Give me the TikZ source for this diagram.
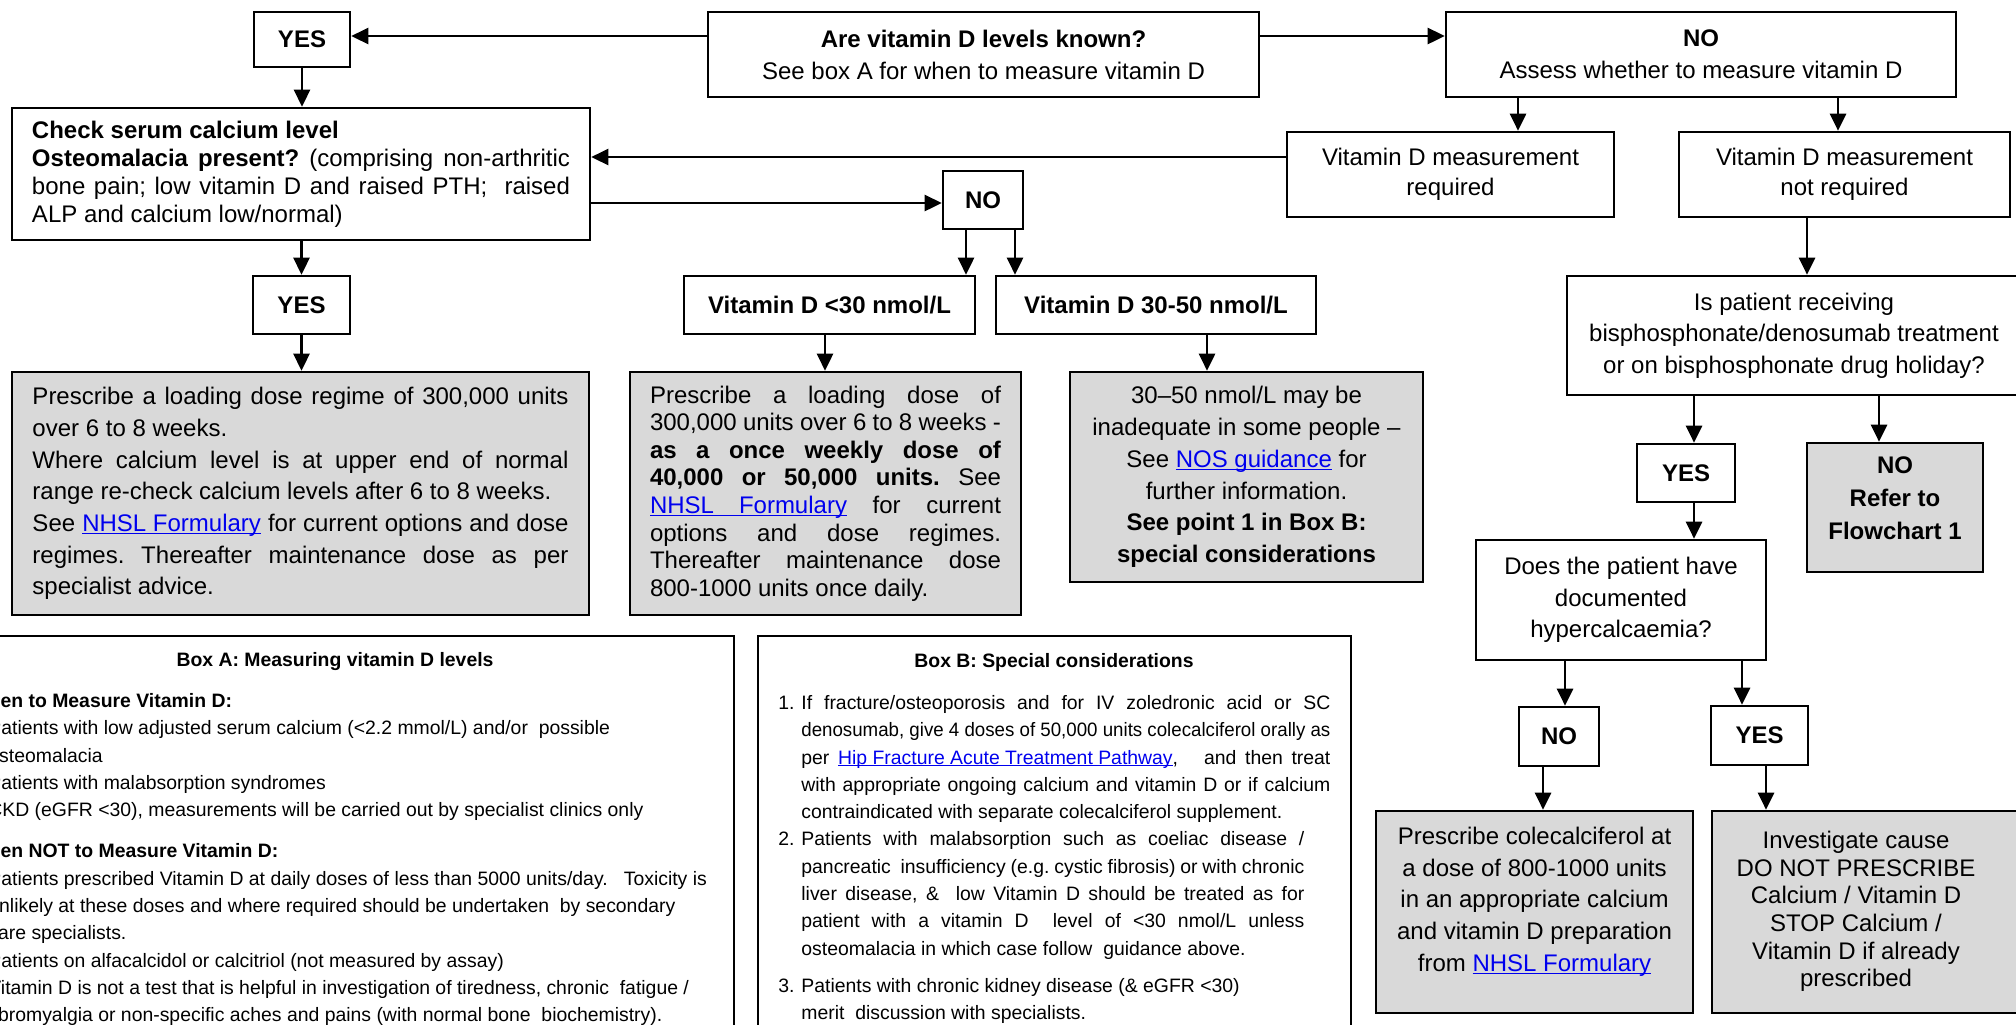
\documentclass[tikz,border=0pt]{standalone}
\usepackage{fontspec}
\setmainfont{Liberation Sans}
\usepackage{graphicx}
\usetikzlibrary{arrows.meta}
\definecolor{boxgrey}{RGB}{217,217,217}
\definecolor{linkblue}{RGB}{0,0,238}
\newcommand{\setfs}[2]{\fontsize{#1}{#2}\selectfont}
\newcommand{\lnk}[1]{\textcolor{linkblue}{\setbox0\hbox{#1}\rlap{\rule[-0.12em]{\wd0}{0.055em}}\box0}}
\frenchspacing
\begin{document}
\begin{tikzpicture}[x=0.5pt,y=-0.5pt,
  wbox/.style={draw, line width=1.3pt, fill=white, inner sep=0pt, align=center, font=\setfs{12}{15}},
  gbox/.style={wbox, fill=boxgrey},
  lbl/.style={wbox, font=\setfs{12}{14.5}\bfseries},
  arr/.style={line width=1.3pt, -{Triangle[length=8.5pt,width=8pt]}},
  plain/.style={inner sep=0pt, align=left, font=\setfs{9.7}{13.65}},
  frame/.style={draw, line width=1pt, inner sep=0pt}]
\useasboundingbox (0,0) rectangle (2016,1024);
\fill[white] (0,0) rectangle (2016,1024);
\clip (0,0) rectangle (2016,1024);

% Boxes A and B (background frames)
\node[frame, minimum width=399pt, minimum height=202pt] (boxA) at (335,838) {};
\node[frame, minimum width=296.5pt, minimum height=202pt] (boxB) at (1054.5,838) {};
\node[plain, font=\setfs{9.7}{13.65}\bfseries] (boxAtitle) at (335,662) {Box A: Measuring vitamin D levels};
\node[plain, font=\setfs{9.7}{13.65}\bfseries] (boxBtitle) at (1054,662) {Box B: Special considerations};

\node[plain, anchor=north west] (boxAbody) at (-30,693) {%
\textbf{When to Measure Vitamin D:}\\
\hspace*{9pt}Patients with low adjusted serum calcium (<2.2 mmol/L) and/or\ \ possible\\
\hspace*{9pt}osteomalacia\\
\hspace*{9pt}Patients with malabsorption syndromes\\
\hspace*{9pt}CKD (eGFR <30), measurements will be carried out by specialist clinics only\\[7pt]
\textbf{When NOT to Measure Vitamin D:}\\
\hspace*{9pt}Patients prescribed Vitamin D at daily doses of less than 5000 units/day.\ \ \ Toxicity is\\
\hspace*{9pt}unlikely at these doses and where required should be undertaken\ \ by secondary\\
\hspace*{9pt}care specialists.\\
\hspace*{9pt}Patients on alfacalcidol or calcitriol (not measured by assay)\\
\hspace*{9pt}Vitamin D is not a test that is helpful in investigation of tiredness, chronic\ \ fatigue /\\
\hspace*{9pt}fibromyalgia or non-specific aches and pains (with normal bone\ \ biochemistry).};

\node[plain, anchor=north west] (boxBbody) at (801,695) {%
\llap{\makebox[11.5pt][l]{1.}}\makebox[264.5pt][s]{If fracture/osteoporosis and for IV zoledronic acid or SC}\\
\resizebox{264.5pt}{\height}{denosumab, give 4 doses of 50,000 units colecalciferol orally as}\\
\makebox[264.5pt][s]{per \lnk{Hip Fracture Acute Treatment Pathway},\ \ \ and then treat}\\
\makebox[264.5pt][s]{with appropriate ongoing calcium and vitamin D or if calcium}\\
contraindicated with separate colecalciferol supplement.\\
\llap{\makebox[11.5pt][l]{2.}}\makebox[251.5pt][s]{Patients with malabsorption such as coeliac disease /}\\
\makebox[251.5pt][s]{pancreatic\ \ insufficiency (e.g. cystic fibrosis) or with chronic}\\
\makebox[251.5pt][s]{liver disease, \&\ \ low Vitamin D should be treated as for}\\
\makebox[251.5pt][s]{patient with a vitamin D\ \ level of <30 nmol/L unless}\\
osteomalacia in which case follow\ \ guidance above.\\[5pt]
\llap{\makebox[11.5pt][l]{3.}}Patients with chronic kidney disease (\& eGFR <30)\\
merit\ \ discussion with specialists.};

% Top row
\node[lbl, minimum width=48pt, minimum height=27.5pt] (yes1) at (302,39.5) {YES};
\node[wbox, font=\setfs{12}{16}, minimum width=275.5pt, minimum height=42.5pt] (q1) at (983.5,54.5)
  {\textbf{Are vitamin D levels known?}\\See box A for when to measure vitamin D};
\node[wbox, font=\setfs{12}{16}, minimum width=255pt, minimum height=42.5pt] (no1) at (1701,54.5)
  {\textbf{NO}\\Assess whether to measure vitamin D};

% Second row
\node[wbox, align=left, font=\setfs{12}{14}, minimum width=289pt, minimum height=66pt] (chk) at (301,174) {%
\textbf{Check serum calcium level}\\
\makebox[269pt][s]{\textbf{Osteomalacia present?} (comprising non-arthritic}\\
\makebox[269pt][s]{bone pain; low vitamin D and raised PTH;\ \ raised}\\
ALP and calcium low/normal)};
\node[wbox, minimum width=163.5pt, minimum height=42.5pt] (req) at (1450.5,174.5) {Vitamin D measurement\\required};
\node[wbox, minimum width=165.5pt, minimum height=42.5pt] (notreq) at (1844.5,174.5) {Vitamin D measurement\\not required};
\node[lbl, minimum width=40pt, minimum height=29pt] (no2) at (983,200) {NO};

% Third row
\node[lbl, minimum width=48.5pt, minimum height=29pt] (yes2) at (301.5,305) {YES};
\node[lbl, minimum width=145.5pt, minimum height=29pt] (lt30) at (829.5,305) {Vitamin D <30 nmol/L};
\node[lbl, minimum width=160pt, minimum height=29pt] (mid) at (1156,305) {Vitamin D 30-50 nmol/L};
\node[wbox, font=\setfs{12}{15.85}, minimum width=227pt, minimum height=59.5pt] (isp) at (1794,335.5)
  {Is patient receiving\\bisphosphonate/denosumab treatment\\or on bisphosphonate drug holiday?};

% Grey boxes
\node[gbox, align=left, font=\setfs{12}{15.85}, minimum width=288.5pt, minimum height=121.5pt] (g1) at (300.5,493.5) {%
\makebox[268pt][s]{Prescribe a loading dose regime of 300,000 units}\\
over 6 to 8 weeks.\\
\makebox[268pt][s]{Where calcium level is at upper end of normal}\\
range re-check calcium levels after 6 to 8 weeks.\\
\makebox[268pt][s]{See \lnk{NHSL Formulary} for current options and dose}\\
\makebox[268pt][s]{regimes. Thereafter maintenance dose as per}\\
specialist advice.};
\node[gbox, align=left, font=\setfs{12}{13.8}, minimum width=195.5pt, minimum height=121.5pt] (g2) at (825.5,493.5) {%
\makebox[175.5pt][s]{Prescribe a loading dose of}\\
\makebox[175.5pt][s]{300,000 units over 6 to 8 weeks -}\\
\makebox[175.5pt][s]{\textbf{as a once weekly dose of}}\\
\makebox[175.5pt][s]{\textbf{40,000 or 50,000 units.} See}\\
\makebox[175.5pt][s]{\lnk{NHSL\hspace{12.5pt}Formulary} for current}\\
\makebox[175.5pt][s]{options and dose regimes.}\\
\makebox[175.5pt][s]{Thereafter maintenance dose}\\
800-1000 units once daily.};
\node[gbox, font=\setfs{12}{15.85}, minimum width=176.5pt, minimum height=105pt] (g3) at (1246.5,477) {%
30–50 nmol/L may be\\inadequate in some people –\\See \lnk{NOS guidance} for\\further information.\\
\textbf{See point 1 in Box B:}\\\textbf{special considerations}};

% Right column
\node[lbl, minimum width=49pt, minimum height=29pt] (yes3) at (1686,473) {YES};
\node[gbox, font=\setfs{12}{16.5}\bfseries, minimum width=88pt, minimum height=64.5pt] (norefer) at (1895,507.5) {NO\\Refer to\\Flowchart 1\\[-7.5pt]\mbox{}};
\node[wbox, font=\setfs{12}{15.75}, minimum width=145pt, minimum height=60pt] (does) at (1621,600) {Does the patient have\\documented\\hypercalcaemia?};
\node[lbl, minimum width=40pt, minimum height=29.5pt] (no4) at (1559,736.5) {NO};
\node[lbl, minimum width=48.5pt, minimum height=29.5pt] (yes4) at (1759.5,735.5) {YES};
\node[gbox, font=\setfs{12}{15.85}, minimum width=158.5pt, minimum height=101pt] (cole) at (1534.5,912) {%
Prescribe colecalciferol at\\a dose of 800-1000 units\\in an appropriate calcium\\and vitamin D preparation\\from \lnk{NHSL Formulary}\\[-3pt]\mbox{}};
\node[gbox, font=\setfs{12}{13.85}, minimum width=159pt, minimum height=101pt] (inv) at (1871,912) {%
\begin{tabular}{@{}c@{}}Investigate cause\\DO NOT PRESCRIBE\\Calcium / Vitamin D\\STOP Calcium /\\Vitamin D if already\\prescribed\end{tabular}\hspace*{15pt}};

% Connectors
\draw[arr] (q1.west |- 0,36) -- (yes1.east |- 0,36);
\draw[arr] (q1.east |- 0,36) -- (no1.west |- 0,36);
\draw[arr] (yes1.south) -- (yes1.south |- chk.north);
\draw[arr] (no1.south -| 1518,0) -- (req.north -| 1518,0);
\draw[arr] (no1.south -| 1838,0) -- (notreq.north -| 1838,0);
\draw[arr] (req.west |- 0,157) -- (chk.east |- 0,157);
\draw[arr] (chk.east |- 0,203) -- (no2.west |- 0,203);
\draw[arr] (chk.south -| yes2.north) -- (yes2.north);
\draw[arr] (no2.south -| 966,0) -- (lt30.north -| 966,0);
\draw[arr] (no2.south -| 1015,0) -- (mid.north -| 1015,0);
\draw[arr] (yes2.south) -- (yes2.south |- g1.north);
\draw[arr] (lt30.south -| 825,0) -- (g2.north -| 825,0);
\draw[arr] (mid.south -| 1207,0) -- (g3.north -| 1207,0);
\draw[arr] (notreq.south -| 1807,0) -- (isp.north -| 1807,0);
\draw[arr] (isp.south -| 1694,0) -- (yes3.north -| 1694,0);
\draw[arr] (isp.south -| 1879,0) -- (norefer.north -| 1879,0);
\draw[arr] (yes3.south -| 1694,0) -- (does.north -| 1694,0);
\draw[arr] (does.south -| 1565,0) -- (no4.north -| 1565,0);
\draw[arr] (does.south -| 1742,0) -- (yes4.north -| 1742,0);
\draw[arr] (no4.south -| 1543,0) -- (cole.north -| 1543,0);
\draw[arr] (yes4.south -| 1766,0) -- (inv.north -| 1766,0);
\end{tikzpicture}
\end{document}
